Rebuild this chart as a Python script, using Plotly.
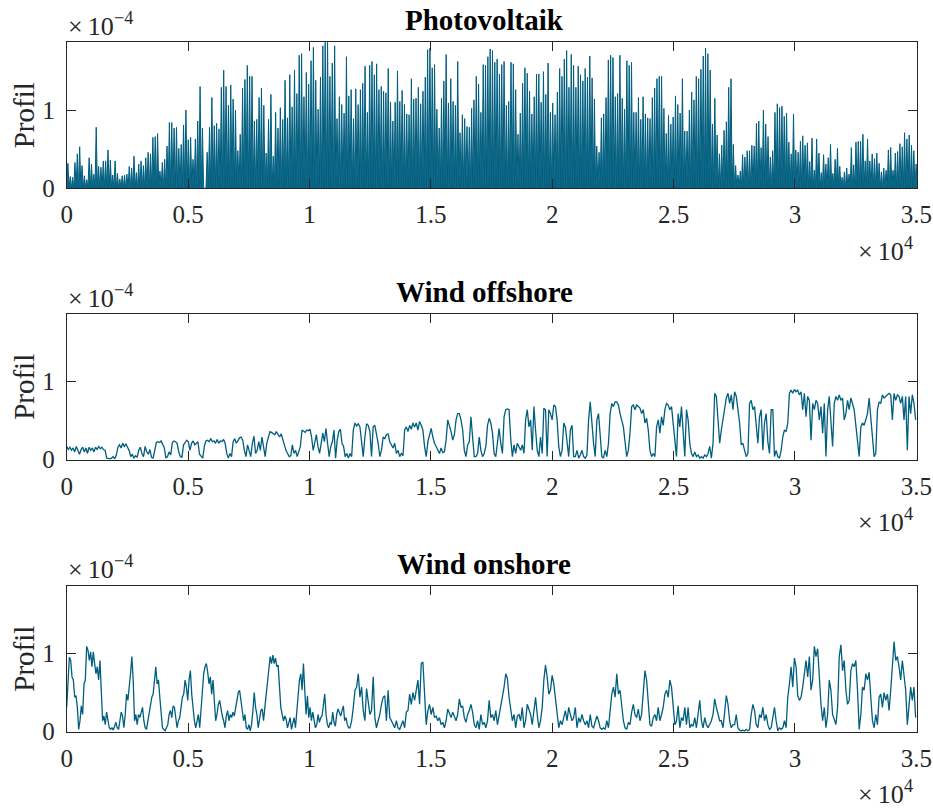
import numpy as np
import plotly.graph_objects as go

# ---------------- data (values in units of 1e-4) ----------------
# time axis: 15-min steps over one year
t_max = 35040
block_edges = [0, 11670, 23410, 35040]

# Photovoltaik: daily peak values, block by block (value at night is zero)
pv_night = 0.0
pv_block1 = [0.32,0.15,0.14,0.33,0.44,0.53,0.29,0.16,0.11,0.39,
             0.31,0.18,0.78,0.28,0.27,0.35,0.35,0.49,0.36,0.17,
             0.35,0.19,0.12,0.16,0.17,0.18,0.28,0.26,0.41,0.20,
             0.31,0.35,0.29,0.39,0.46,0.44,0.65,0.66,0.70,0.22,
             0.33,0.37,0.54,0.84,0.84,0.77,0.78,0.51,0.56,0.81,
             1.00,0.62,0.65,0.37,0.63,0.86,1.30,0.77,0.0,0.46,
             0.78,1.16,0.80,0.83,0.76,1.29,1.51,1.30,1.06,1.32,
             1.14,1.00,0.48,0.69,1.28,1.39,1.57,1.43,1.43,0.86,
             0.88,1.16,1.28,1.06,0.45,0.88,1.20,0.41,0.97,0.77,
             1.03,0.88,1.38,0.90,1.45,1.04,1.51,1.21,1.70,1.72,
             1.17,1.48,1.33,1.63,1.80,1.38,1.01,1.42,1.82,1.87,
             1.87,1.43,1.60,1.82,0.89,1.17,1.07,0.96,1.68,1.18]
pv_block2 = [1.26,0.89,1.27,1.07,1.26,1.34,1.56,0.97,1.57,1.62,1.45,1.59,1.26,1.30,1.24,1.22,
             1.53,1.10,0.86,1.10,1.50,1.11,1.25,1.07,0.95,0.94,1.40,1.14,1.15,1.29,1.08,1.24,
             1.42,1.77,1.79,1.54,1.58,1.01,0.77,1.15,1.37,1.71,1.09,1.40,1.11,1.06,1.62,0.71,
             0.94,0.89,0.79,0.78,1.02,1.13,1.43,1.33,0.97,1.58,1.57,1.68,1.78,1.76,1.61,1.65,
             1.46,1.58,1.62,1.06,1.11,1.61,1.59,1.26,0.69,0.96,1.34,1.54,1.47,1.24,0.95,1.17,
             1.46,1.46,1.10,1.49,1.20,1.60,0.97,1.09,0.94,1.23,1.53,1.43,1.65,1.76,1.29,1.71,
             1.57,1.29,1.56,1.45,1.37,1.53,1.42,1.69,1.41,1.14,0.54,0.46,0.90,0.95,1.16,1.64,
             1.70,1.67,1.17,1.21,1.70,1.15,1.01,1.63,1.57,1.61,0.97]
pv_block3 = [0.97,1.16,0.88,1.17,0.95,0.90,0.89,1.16,1.28,1.40,1.43,1.43,1.02,0.70,0.93,0.82,
             0.91,1.18,1.07,0.96,1.40,0.73,0.73,1.00,1.23,1.13,1.43,1.40,1.52,1.69,1.79,1.72,
             1.51,0.82,1.15,0.68,0.44,0.55,0.74,0.85,1.29,1.40,0.56,0.29,0.17,0.22,0.43,0.40,
             0.48,0.48,0.55,0.54,0.83,0.86,0.52,1.00,0.82,0.66,0.40,0.48,0.97,1.08,1.03,1.05,
             0.92,0.96,0.59,0.44,0.95,0.49,0.46,0.60,0.67,0.55,0.58,0.34,0.64,0.23,0.63,0.45,
             0.20,0.43,0.31,0.39,0.56,0.19,0.37,0.51,0.28,0.14,0.21,0.26,0.18,0.52,0.30,0.59,
             0.60,0.60,0.69,0.35,0.63,0.35,0.44,0.38,0.45,0.32,0.21,0.26,0.23,0.49,0.52,0.23,
             0.45,0.47,0.57,0.53,0.71,0.63,0.68,0.55,0.48,0.31]

# Wind offshore
off_block1 = [0.17,0.13,0.16,0.12,0.15,0.10,0.17,0.12,0.07,0.13,0.16,0.10,0.15,0.08,0.16,0.12,
              0.15,0.10,0.16,0.13,0.17,0.14,0.16,0.13,0.12,0.02,0.01,0.01,0.02,0.04,0.01,0.06,
              0.16,0.19,0.15,0.21,0.17,0.20,0.16,0.12,0.04,0.07,0.02,0.05,0.03,0.12,0.16,0.08,
              0.04,0.17,0.10,0.07,0.13,0.03,0.02,0.12,0.22,0.23,0.22,0.24,0.20,0.15,0.02,0.04,
              0.10,0.06,0.22,0.24,0.23,0.21,0.10,0.04,0.03,0.19,0.22,0.25,0.23,0.12,0.21,0.24,
              0.19,0.21,0.23,0.07,0.04,0.02,0.17,0.24,0.25,0.23,0.27,0.23,0.24,0.21,0.26,0.21,
              0.24,0.23,0.26,0.21,0.08,0.02,0.08,0.04,0.23,0.27,0.21,0.25,0.28,0.29,0.25,0.12,
              0.04,0.19,0.12,0.04,0.21,0.30,0.08,0.12,0.23,0.12,0.29,0.17,0.04,0.21,0.30,0.36,
              0.35,0.34,0.32,0.36,0.33,0.29,0.33,0.25,0.17,0.12,0.08,0.04,0.05,0.19,0.08,0.12,
              0.04,0.12,0.17,0.38,0.37,0.35,0.38,0.37,0.39,0.29,0.12,0.22,0.32,0.17,0.08,0.21,
              0.34,0.23,0.40,0.21,0.04,0.17,0.23,0.38,0.02,0.25,0.36,0.39,0.21,0.17,0.04,0.08,0.02]
off_block2 = [0.08,0.04,0.38,0.47,0.43,0.46,0.42,0.25,0.04,0.29,0.46,0.44,0.36,0.04,0.42,0.44,
              0.34,0.21,0.04,0.12,0.29,0.27,0.32,0.33,0.23,0.19,0.15,0.21,0.08,0.12,0.04,0.08,
              0.05,0.38,0.42,0.36,0.44,0.39,0.47,0.42,0.47,0.38,0.49,0.44,0.38,0.17,0.04,0.23,
              0.32,0.40,0.29,0.21,0.17,0.12,0.08,0.15,0.09,0.10,0.25,0.51,0.44,0.36,0.25,0.32,
              0.51,0.59,0.59,0.51,0.38,0.12,0.04,0.19,0.23,0.55,0.29,0.04,0.04,0.08,0.29,0.12,
              0.04,0.08,0.17,0.44,0.53,0.47,0.34,0.08,0.04,0.23,0.40,0.21,0.08,0.55,0.64,0.65,
              0.64,0.27,0.04,0.19,0.08,0.21,0.17,0.12,0.19,0.08,0.51,0.64,0.42,0.51,0.12,0.68,
              0.38,0.12,0.04,0.29,0.08,0.66,0.64,0.04,0.64,0.59,0.51,0.70,0.68,0.51,0.17,0.04,
              0.12,0.47,0.42,0.21,0.04,0.38,0.44,0.04,0.04,0.12,0.02,0.06,0.12,0.04,0.02,0.06,
              0.51,0.74,0.42,0.21,0.04,0.51,0.59,0.36,0.04,0.02,0.12,0.04,0.21,0.59,0.72,0.68,
              0.74,0.74,0.70,0.59,0.51,0.42,0.23,0.04,0.12,0.34,0.68,0.70]
off_block3 = [0.64,0.70,0.68,0.66,0.59,0.64,0.47,0.53,0.38,0.12,0.04,0.08,0.04,0.42,0.51,0.34,
              0.55,0.44,0.64,0.72,0.70,0.64,0.68,0.47,0.21,0.04,0.59,0.42,0.68,0.29,0.04,0.64,
              0.51,0.21,0.08,0.04,0.10,0.04,0.06,0.02,0.04,0.02,0.06,0.04,0.08,0.17,0.02,0.21,
              0.85,0.81,0.51,0.21,0.38,0.51,0.64,0.79,0.85,0.72,0.83,0.64,0.87,0.81,0.64,0.47,
              0.19,0.21,0.12,0.04,0.08,0.72,0.76,0.64,0.68,0.44,0.21,0.55,0.64,0.12,0.47,0.59,
              0.23,0.08,0.64,0.64,0.04,0.12,0.04,0.02,0.12,0.29,0.38,0.36,0.47,0.85,0.89,0.85,
              0.90,0.87,0.89,0.83,0.87,0.64,0.85,0.55,0.81,0.76,0.25,0.72,0.64,0.76,0.72,0.51,
              0.68,0.34,0.72,0.04,0.64,0.81,0.51,0.17,0.72,0.81,0.76,0.83,0.76,0.79,0.51,0.59,
              0.76,0.64,0.79,0.72,0.64,0.44,0.27,0.04,0.42,0.47,0.44,0.51,0.59,0.79,0.55,0.29,
              0.04,0.08,0.64,0.74,0.72,0.83,0.79,0.81,0.83,0.85,0.83,0.51,0.85,0.76,0.83,0.81,
              0.72,0.81,0.51,0.81,0.12,0.81,0.59,0.83,0.72,0.51]

# Wind onshore
on_block1 = [0.31,0.66,0.95,0.91,0.70,0.66,0.44,0.46,0.31,0.03,0.14,0.33,0.22,0.61,0.66,1.09,
             1.04,0.91,1.02,0.83,1.02,0.87,0.74,0.83,0.66,0.91,0.48,0.14,0.20,0.09,0.25,0.12,
             0.05,0.03,0.05,0.02,0.09,0.12,0.05,0.03,0.14,0.25,0.20,0.05,0.22,0.48,0.40,0.55,
             0.74,0.96,0.66,0.14,0.22,0.09,0.22,0.18,0.27,0.31,0.14,0.05,0.03,0.14,0.20,0.31,
             0.44,0.48,0.70,0.83,0.61,0.66,0.44,0.27,0.05,0.03,0.01,0.05,0.09,0.22,0.27,0.18,
             0.33,0.31,0.18,0.05,0.14,0.18,0.31,0.44,0.48,0.66,0.57,0.40,0.66,0.78,0.48,0.27,
             0.14,0.05,0.12,0.22,0.05,0.31,0.48,0.74,0.83,0.87,0.76,0.61,0.70,0.48,0.66,0.31,
             0.14,0.22,0.35,0.40,0.27,0.20,0.14,0.05,0.20,0.27,0.14,0.22,0.18,0.25,0.20,0.31,
             0.44,0.50,0.53,0.40,0.27,0.14,0.22,0.05,0.03,0.09,0.01,0.09,0.27,0.50,0.31,0.22,
             0.05,0.14,0.27,0.29,0.14,0.31,0.48,0.66,0.74,0.96,0.87,0.98,0.87,0.94,0.83,0.85,
             0.57,0.31,0.22,0.14,0.20,0.16,0.05,0.14,0.18,0.03,0.09,0.18,0.05,0.22,0.46,0.66,
             0.74,0.53,0.87,0.53,0.22,0.46,0.18,0.31,0.14,0.25,0.14,0.05,0.09,0.22,0.12,0.18,
             0.20,0.31,0.48,0.22,0.09,0.05,0.12,0.09,0.25,0.12,0.07,0.22,0.29,0.25,0.20,0.27,
             0.33,0.14,0.18,0.09,0.05]
on_block2 = [0.05,0.14,0.31,0.53,0.57,0.74,0.44,0.57,0.27,0.14,0.55,0.40,0.22,0.27,0.70,0.18,
             0.05,0.14,0.22,0.35,0.44,0.46,0.14,0.53,0.18,0.14,0.09,0.05,0.14,0.05,0.03,0.09,
             0.14,0.05,0.25,0.27,0.48,0.35,0.50,0.40,0.55,0.66,0.35,0.87,0.89,0.44,0.09,0.27,
             0.35,0.22,0.31,0.18,0.20,0.14,0.18,0.09,0.12,0.05,0.14,0.29,0.22,0.18,0.25,0.18,
             0.14,0.22,0.42,0.31,0.33,0.18,0.12,0.22,0.27,0.35,0.25,0.09,0.05,0.14,0.03,0.22,
             0.09,0.12,0.05,0.14,0.40,0.18,0.22,0.14,0.27,0.09,0.20,0.31,0.44,0.57,0.74,0.68,
             0.44,0.25,0.14,0.22,0.05,0.20,0.22,0.14,0.31,0.05,0.14,0.35,0.27,0.22,0.09,0.25,
             0.44,0.22,0.05,0.14,0.31,0.66,0.85,0.70,0.48,0.53,0.72,0.61,0.42,0.18,0.05,0.14,
             0.09,0.18,0.27,0.14,0.31,0.22,0.14,0.18,0.31,0.05,0.18,0.12,0.22,0.14,0.09,0.14,
             0.05,0.22,0.07,0.05,0.14,0.20,0.14,0.05,0.03,0.05,0.03,0.14,0.05,0.31,0.48,0.57,
             0.44,0.74,0.48,0.53,0.33,0.14,0.05,0.03,0.12,0.09,0.25,0.35]
on_block3 = [0.22,0.18,0.29,0.14,0.22,0.48,0.78,0.66,0.35,0.09,0.07,0.18,0.22,0.14,0.31,0.14,
             0.22,0.31,0.48,0.53,0.44,0.66,0.57,0.27,0.09,0.14,0.33,0.05,0.18,0.14,0.31,0.09,
             0.31,0.05,0.09,0.07,0.18,0.05,0.25,0.40,0.14,0.05,0.18,0.09,0.05,0.09,0.14,0.22,
             0.42,0.31,0.20,0.14,0.14,0.05,0.25,0.46,0.35,0.14,0.05,0.09,0.09,0.22,0.05,0.02,
             0.01,0.02,0.01,0.03,0.01,0.03,0.22,0.35,0.27,0.09,0.05,0.22,0.18,0.31,0.14,0.22,
             0.09,0.03,0.05,0.16,0.31,0.14,0.01,0.05,0.03,0.05,0.14,0.05,0.44,0.61,0.83,0.57,
             0.94,0.83,0.46,0.40,0.44,0.57,0.78,0.91,0.70,0.96,0.53,0.66,1.09,0.96,1.06,0.61,
             0.35,0.14,0.31,0.05,0.22,0.66,0.53,0.22,0.14,0.09,0.31,0.96,1.11,0.78,0.91,0.53,
             0.35,0.40,0.78,0.87,0.83,0.91,0.53,0.03,0.22,0.57,0.53,0.74,0.66,0.76,0.44,0.14,
             0.05,0.22,0.09,0.44,0.48,0.31,0.50,0.40,0.48,0.27,0.53,0.89,1.15,0.91,0.96,0.83,
             0.66,0.91,0.74,0.53,0.09,0.40,0.57,0.40,0.57,0.18]

x_tick_vals = [0, 5000, 10000, 15000, 20000, 25000, 30000, 35000]
x_tick_text = ["0", "0.5", "1", "1.5", "2", "2.5", "3", "3.5"]
y_tick_vals = [0, 1]
y_tick_text = ["0", "1"]
y_max = 1.865

titles = ["Photovoltaik", "Wind offshore", "Wind onshore"]
y_label = "Profil"

# ---------------- helpers ----------------
W, H = 933, 809
def px(x):
    return x / W
def py(y):
    return 1 - y / H

def block_times(blocks):
    xs, steps = [], []
    for i, b in enumerate(blocks):
        a, e = block_edges[i], block_edges[i + 1]
        step = (e - a) / len(b)
        xs.extend(a + np.arange(len(b)) * step)
        steps.extend([step] * len(b))
    return np.array(xs), np.array(steps)

color = "#005e7f"
axis_col = "#262626"
font_fam = "Liberation Serif, Times New Roman, serif"

fig = go.Figure()

# PV: each day rises from the night value to its peak and back
pv_vals = pv_block1 + pv_block2 + pv_block3
day_start, day_len = block_times([pv_block1, pv_block2, pv_block3])
pv_x, pv_y = [], []
for s, d, v in zip(day_start, day_len, pv_vals):
    pv_x += [s, s + d / 2]
    pv_y += [pv_night, v]
pv_x.append(t_max)
pv_y.append(pv_night)
fig.add_trace(go.Scatter(x=pv_x, y=pv_y, mode="lines", line=dict(color=color, width=1.0),
                         fill="tozeroy", fillcolor="rgba(0,94,127,0.92)",
                         xaxis="x", yaxis="y", showlegend=False))

off_vals = off_block1 + off_block2 + off_block3
off_x, _ = block_times([off_block1, off_block2, off_block3])
fig.add_trace(go.Scatter(x=off_x, y=off_vals, mode="lines", line=dict(color=color, width=1.3),
                         xaxis="x2", yaxis="y2", showlegend=False))

on_vals = on_block1 + on_block2 + on_block3
on_x, _ = block_times([on_block1, on_block2, on_block3])
fig.add_trace(go.Scatter(x=on_x, y=on_vals, mode="lines", line=dict(color=color, width=1.3),
                         xaxis="x3", yaxis="y3", showlegend=False))

x_dom = [px(66.7), px(917.3)]
axes_px = [(42.3, 188.3), (314.0, 459.7), (585.7, 731.7)]

def xaxis_cfg(anchor):
    return dict(domain=x_dom, range=[0, t_max], anchor=anchor, tickvals=x_tick_vals, ticktext=x_tick_text,
                ticks="inside", ticklen=9, tickwidth=1, tickcolor=axis_col, showline=True, linecolor=axis_col,
                linewidth=1, mirror="ticks", showgrid=False, zeroline=False, automargin=False,
                tickfont=dict(family=font_fam, size=25, color=axis_col), ticklabelstandoff=4)

def yaxis_cfg(anchor, dom):
    return dict(domain=dom, range=[0, y_max], anchor=anchor, tickvals=y_tick_vals, ticktext=y_tick_text,
                ticks="inside", ticklen=9, tickwidth=1, tickcolor=axis_col, showline=True, linecolor=axis_col,
                linewidth=1, mirror="ticks", showgrid=False, zeroline=False, automargin=False,
                tickfont=dict(family=font_fam, size=25, color=axis_col), ticklabelstandoff=6)

layout = dict(template="none", width=W, height=H, autosize=False, margin=dict(l=0, r=0, t=0, b=0, pad=0),
              paper_bgcolor="white", plot_bgcolor="white")
names = [("xaxis", "yaxis", "x", "y"), ("xaxis2", "yaxis2", "x2", "y2"), ("xaxis3", "yaxis3", "x3", "y3")]
annotations = []
for i, (xa, ya, xr, yr) in enumerate(names):
    top, bot = axes_px[i]
    layout[xa] = xaxis_cfg(yr)
    layout[ya] = yaxis_cfg(xr, [py(bot), py(top)])
    annotations.append(dict(text="<b>" + titles[i] + "</b>", x=px(484), y=py(top - 22), xref="paper", yref="paper",
                            xanchor="center", yanchor="middle", showarrow=False,
                            font=dict(family=font_fam, size=29, color="black")))
    annotations.append(dict(text=y_label, x=px(24), y=py((top + bot) / 2), xref="paper", yref="paper",
                            xanchor="center", yanchor="middle", textangle=-90, showarrow=False,
                            font=dict(family=font_fam, size=29, color=axis_col)))
    annotations.append(dict(text="×\u200910<sup>−4</sup>", x=px(66), y=py(top - 18), xref="paper", yref="paper",
                            xanchor="left", yanchor="middle", showarrow=False,
                            font=dict(family=font_fam, size=26, color=axis_col)))
    annotations.append(dict(text="×\u200910<sup>4</sup>", x=px(915), y=py(bot + 61), xref="paper", yref="paper",
                            xanchor="right", yanchor="middle", showarrow=False,
                            font=dict(family=font_fam, size=26, color=axis_col)))
layout["annotations"] = annotations
fig.update_layout(**layout)

fig.write_html("out.html")
